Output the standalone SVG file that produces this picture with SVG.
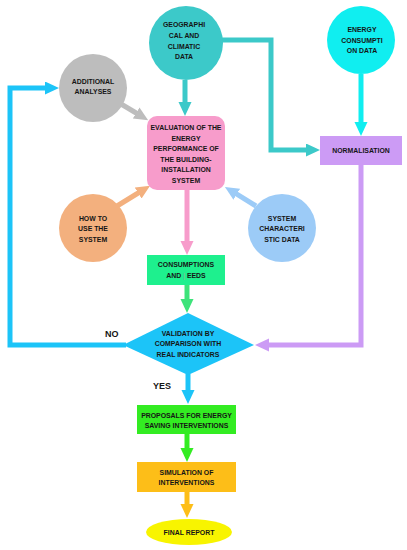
<svg xmlns="http://www.w3.org/2000/svg" width="407" height="550" viewBox="0 0 407 550">
<style>
text{font-family:"Liberation Sans",Arial,sans-serif;font-weight:bold;font-size:6.9px;fill:#151515;text-anchor:middle}
.lbl{font-size:9px;text-anchor:start}
.c{fill:none;stroke-width:5;stroke-linejoin:miter}
</style>
<defs>
<marker id="mTeal" markerUnits="userSpaceOnUse" markerWidth="15" markerHeight="14" refX="1" refY="6.5" orient="auto"><path d="M0,0L14,6.5L0,13z" fill="#3CC9C9"/></marker>
<marker id="mCyan" markerUnits="userSpaceOnUse" markerWidth="15" markerHeight="14" refX="1" refY="6.5" orient="auto"><path d="M0,0L14,6.5L0,13z" fill="#10EEF0"/></marker>
<marker id="mGray" markerUnits="userSpaceOnUse" markerWidth="15" markerHeight="14" refX="1" refY="6.5" orient="auto"><path d="M0,0L14,6.5L0,13z" fill="#BDBDBD"/></marker>
<marker id="mPink" markerUnits="userSpaceOnUse" markerWidth="15" markerHeight="14" refX="1" refY="6.5" orient="auto"><path d="M0,0L14,6.5L0,13z" fill="#F79CCB"/></marker>
<marker id="mSalmon" markerUnits="userSpaceOnUse" markerWidth="15" markerHeight="14" refX="1" refY="6.5" orient="auto"><path d="M0,0L14,6.5L0,13z" fill="#F3B07E"/></marker>
<marker id="mLBlue" markerUnits="userSpaceOnUse" markerWidth="15" markerHeight="14" refX="1" refY="6.5" orient="auto"><path d="M0,0L14,6.5L0,13z" fill="#9CCBF7"/></marker>
<marker id="mPurple" markerUnits="userSpaceOnUse" markerWidth="15" markerHeight="14" refX="1" refY="6.5" orient="auto"><path d="M0,0L14,6.5L0,13z" fill="#CC9BF5"/></marker>
<marker id="mGreen" markerUnits="userSpaceOnUse" markerWidth="15" markerHeight="14" refX="1" refY="6.5" orient="auto"><path d="M0,0L14,6.5L0,13z" fill="#3DE37A"/></marker>
<marker id="mBlue" markerUnits="userSpaceOnUse" markerWidth="15" markerHeight="14" refX="1" refY="6.5" orient="auto"><path d="M0,0L14,6.5L0,13z" fill="#1CC4F8"/></marker>
<marker id="mLime" markerUnits="userSpaceOnUse" markerWidth="15" markerHeight="14" refX="1" refY="6.5" orient="auto"><path d="M0,0L14,6.5L0,13z" fill="#33EC22"/></marker>
<marker id="mOrange" markerUnits="userSpaceOnUse" markerWidth="15" markerHeight="14" refX="1" refY="6.5" orient="auto"><path d="M0,0L14,6.5L0,13z" fill="#FDBE18"/></marker>
</defs>
<rect width="407" height="550" fill="#fff"/>
<g id="connectors">
<path class="c" d="M220,40H271V150H307" stroke="#3CC9C9" marker-end="url(#mTeal)"/>
<path class="c" d="M185,80V103" stroke="#3CC9C9" marker-end="url(#mTeal)"/>
<path class="c" d="M361,74V123" stroke="#10EEF0" marker-end="url(#mCyan)"/>
<path class="c" d="M121,104L137,113.5" stroke="#BDBDBD" marker-end="url(#mGray)"/>
<path class="c" d="M117,206L139,192.5" stroke="#F3B07E" marker-end="url(#mSalmon)"/>
<path class="c" d="M256,206L236,193.7" stroke="#9CCBF7" marker-end="url(#mLBlue)"/>
<path class="c" d="M187,190V242" stroke="#F79CCB" marker-end="url(#mPink)"/>
<path class="c" d="M187,285V300" stroke="#3DE37A" marker-end="url(#mGreen)"/>
<path class="c" d="M361,165V345H268" stroke="#CC9BF5" marker-end="url(#mPurple)"/>
<path class="c" d="M126,345H10V88H46" stroke="#1CC4F8" marker-end="url(#mBlue)"/>
<path class="c" d="M188,374V391" stroke="#1CC4F8" marker-end="url(#mBlue)"/>
<path class="c" d="M187,434V449" stroke="#33EC22" marker-end="url(#mLime)"/>
<path class="c" d="M187,492V505" stroke="#FDBE18" marker-end="url(#mOrange)"/>
</g>
<g id="geo"><circle cx="186" cy="43" r="37" fill="#3CC9C9"/>
<text x="184" y="27">GEOGRAPHI</text><text x="184" y="38">CAL AND</text><text x="184" y="48.5">CLIMATIC</text><text x="184" y="59">DATA</text></g>
<g id="energy"><circle cx="361" cy="40" r="34" fill="#10EEF0"/>
<text x="362" y="32">ENERGY</text><text x="362" y="42.5">CONSUMPTI</text><text x="362" y="53">ON DATA</text></g>
<g id="additional"><circle cx="93" cy="88" r="34" fill="#BDBDBD"/>
<text x="93" y="84">ADDITIONAL</text><text x="93" y="94">ANALYSES</text></g>
<g id="evaluation"><rect x="147" y="116" width="78" height="74" rx="10" fill="#F79CCB"/>
<text x="186" y="130">EVALUATION OF THE</text><text x="186" y="140.5">ENERGY</text><text x="186" y="151">PERFORMANCE OF</text><text x="186" y="161.5">THE BUILDING-</text><text x="186" y="172">INSTALLATION</text><text x="186" y="182.5">SYSTEM</text></g>
<g id="normalisation"><rect x="320" y="136" width="82" height="29" fill="#CC9BF5"/>
<text x="361" y="152.5">NORMALISATION</text></g>
<g id="howto"><circle cx="93" cy="228" r="34" fill="#F3B07E"/>
<text x="93" y="220.5">HOW TO</text><text x="93" y="231">USE THE</text><text x="93" y="241.5">SYSTEM</text></g>
<g id="syschar"><circle cx="282" cy="228" r="34" fill="#9CCBF7"/>
<text x="282" y="220.5">SYSTEM</text><text x="282" y="231">CHARACTERI</text><text x="282" y="241.5">STIC DATA</text></g>
<g id="consumptions"><rect x="147" y="255" width="78" height="30" fill="#1EF08E"/>
<text x="186" y="267">CONSUMPTIONS</text><text x="186" y="277.5">AND <tspan fill="#9a9a9a" font-weight="normal">|</tspan> EEDS</text></g>
<g id="validation"><polygon points="123,345 188,313 254,345 188,375" fill="#1CC4F8"/>
<text x="188" y="335.5">VALIDATION BY</text><text x="188" y="346">COMPARISON WITH</text><text x="188" y="356.5">REAL INDICATORS</text></g>
<text class="lbl" x="105" y="336.5">NO</text>
<text class="lbl" x="153" y="388.5">YES</text>
<g id="proposals"><rect x="137" y="405" width="99" height="29" fill="#33EC22"/>
<text x="186.5" y="417.5">PROPOSALS FOR ENERGY</text><text x="186.5" y="428">SAVING INTERVENTIONS</text></g>
<g id="simulation"><rect x="137" y="462" width="99" height="30" fill="#FDBE18"/>
<text x="186.5" y="474.5">SIMULATION OF</text><text x="186.5" y="485">INTERVENTIONS</text></g>
<g id="final"><ellipse cx="189" cy="532" rx="43" ry="13" fill="#F8F400"/>
<text x="189" y="535">FINAL REPORT</text></g>
</svg>
